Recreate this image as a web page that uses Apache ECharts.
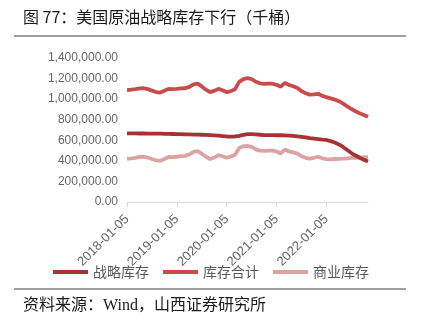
<!DOCTYPE html>
<html><head><meta charset="utf-8">
<script src="https://cdn.jsdelivr.net/npm/echarts@6/dist/echarts.min.js"></script>
<style>html,body{margin:0;padding:0;background:#fff;}#c{width:423px;height:327px;}</style>
</head><body><div id="c"></div>
<script>
const categories = [
'2018-01-05','2018-02-05','2018-03-05','2018-04-05','2018-05-05','2018-06-05','2018-07-05','2018-08-05','2018-09-05','2018-10-05','2018-11-05','2018-12-05',
'2019-01-05','2019-02-05','2019-03-05','2019-04-05','2019-05-05','2019-06-05','2019-07-05','2019-08-05','2019-09-05','2019-10-05','2019-11-05','2019-12-05',
'2020-01-05','2020-02-05','2020-03-05','2020-04-05','2020-05-05','2020-06-05','2020-07-05','2020-08-05','2020-09-05','2020-10-05','2020-11-05','2020-12-05',
'2021-01-05','2021-02-05','2021-03-05','2021-04-05','2021-05-05','2021-06-05','2021-07-05','2021-08-05','2021-09-05','2021-10-05','2021-11-05','2021-12-05',
'2022-01-05','2022-02-05','2022-03-05','2022-04-05','2022-05-05','2022-06-05','2022-07-05','2022-08-05','2022-09-05','2022-10-05','2022-11-05'];
const strategic = [
668000,667000,667000,666000,666000,665000,665000,664000,664000,663000,662000,661000,
660000,659000,658000,657000,656000,655000,654000,652000,650000,648000,645000,641000,
637000,636000,637000,643000,652000,659000,660000,657000,654000,651000,650000,650000,
649000,649000,648000,646000,643000,638000,633000,628000,622000,617000,612000,607000,
603000,592000,578000,560000,535000,505000,476000,452000,430000,410000,393000];
const total = [
1088000,1092000,1097000,1104000,1106000,1097000,1083000,1069000,1064000,1081000,1100000,1097000,
1100000,1104000,1106000,1119000,1144000,1150000,1124000,1092000,1068000,1080000,1100000,1086000,
1067000,1078000,1097000,1168000,1194000,1204000,1195000,1169000,1154000,1149000,1150000,1150000,
1139000,1121000,1158000,1138000,1125000,1108000,1078000,1058000,1044000,1047000,1052000,1032000,
1019000,1007000,996000,980000,957000,930000,904000,882000,862000,846000,828000];
const commercial = [
420000,425000,430000,438000,440000,432000,418000,405000,400000,418000,438000,436000,
440000,445000,448000,462000,488000,495000,470000,440000,418000,432000,455000,445000,
430000,442000,460000,525000,542000,545000,535000,512000,500000,498000,500000,500000,
490000,472000,510000,492000,482000,470000,445000,430000,422000,430000,440000,425000,
416000,415000,418000,420000,422000,425000,428000,430000,432000,436000,435000];
const seriesNames = ['战略库存','库存合计','商业库存'];
const yTicks = [0,200000,400000,600000,800000,1000000,1200000,1400000];

const chart = echarts.init(document.getElementById('c'), null, {renderer:'canvas'});
const fmt = v => v.toLocaleString('en-US',{minimumFractionDigits:2,maximumFractionDigits:2});
chart.setOption({
  animation:false,
  backgroundColor:'#fff',
  grid:{left:127,right:55,top:58,bottom:125},
  legend:{
    data:seriesNames, left:48, top:260, itemWidth:35, itemHeight:4, itemGap:14,
    icon:'rect',
    textStyle:{color:'#595959',fontSize:14,fontFamily:'"Noto Sans CJK SC"'}
  },
  xAxis:{
    type:'category', data:categories, boundaryGap:false,
    axisLine:{lineStyle:{color:'#d9d9d9'}},
    axisTick:{interval:11,length:5,lineStyle:{color:'#d9d9d9'}},
    axisLabel:{interval:11,rotate:45,color:'#666666',fontSize:13,fontFamily:'"Liberation Sans"',margin:15}
  },
  yAxis:{
    type:'value', min:yTicks[0], max:yTicks[yTicks.length-1], interval:yTicks[1]-yTicks[0],
    axisLine:{show:false}, axisTick:{show:false}, splitLine:{show:false},
    axisLabel:{formatter:fmt,color:'#666666',fontSize:12,fontFamily:'"Liberation Sans"',margin:9}
  },
  series:[
    {name:seriesNames[0],type:'line',data:strategic,showSymbol:false,lineStyle:{width:3.8,color:'#A43434'},itemStyle:{color:'#A43434'},z:3},
    {name:seriesNames[1],type:'line',data:total,showSymbol:false,lineStyle:{width:3.8,color:'#C94B4B'},itemStyle:{color:'#C94B4B'},z:2},
    {name:seriesNames[2],type:'line',data:commercial,showSymbol:false,lineStyle:{width:3.8,color:'#DDA3A3'},itemStyle:{color:'#DDA3A3'},z:1}
  ],
  graphic:[
    {type:'text',left:23,top:9,style:{text:'图 77：美国原油战略库存下行（千桶）',fill:'#1a1a1a',font:'16px "Noto Sans CJK SC"'}},
    {type:'line',shape:{x1:14,y1:36,x2:406,y2:36},style:{stroke:'#808080',lineWidth:1.5}},
    {type:'line',shape:{x1:14,y1:289,x2:406,y2:289},style:{stroke:'#808080',lineWidth:1.5}},
    {type:'text',left:23,top:298,style:{text:'资料来源：Wind，山西证券研究所',fill:'#1a1a1a',font:'16px "Liberation Serif","Noto Sans CJK SC"'}}
  ]
});
</script>
</body></html>
